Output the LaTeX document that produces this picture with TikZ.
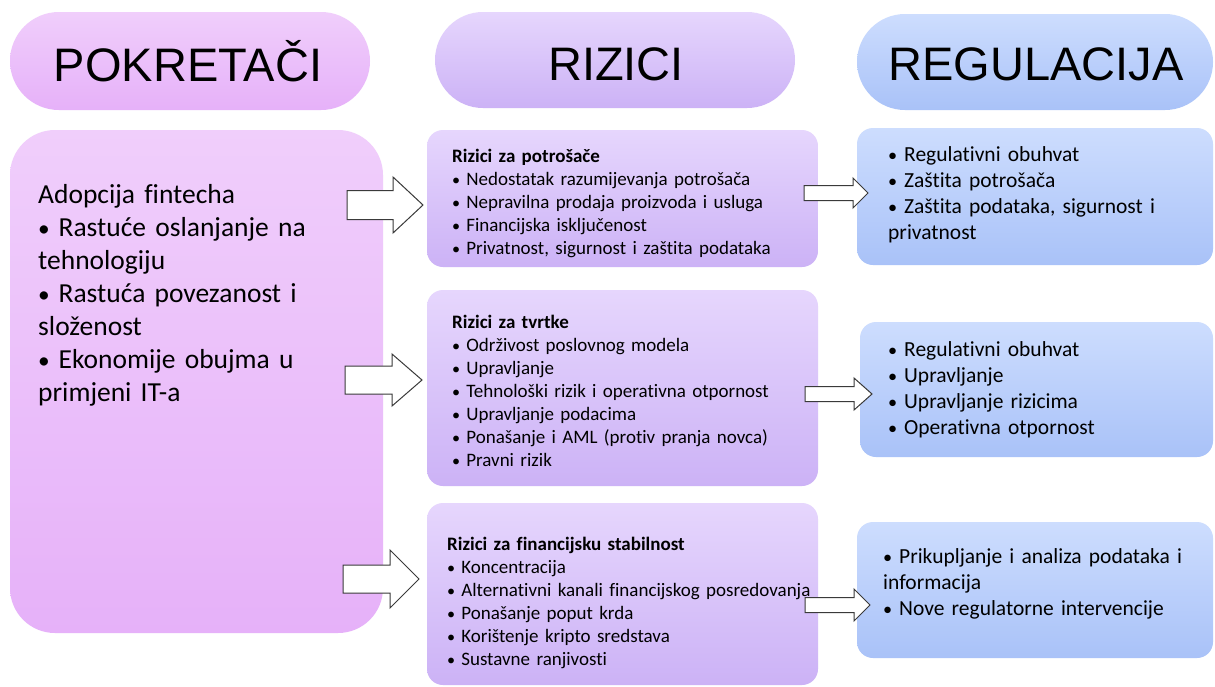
\documentclass[tikz,border=0pt]{standalone}
\usepackage{fontspec}
\setmainfont{Carlito}[Ligatures={NoCommon}]
\newfontfamily\headfont{Liberation Sans}
\definecolor{pinkT}{HTML}{F0CEFB}
\definecolor{pinkB}{HTML}{E6B1F9}
\definecolor{lavT}{HTML}{E6D6FD}
\definecolor{lavB}{HTML}{CCB2F6}
\definecolor{bluT}{HTML}{CDDDFE}
\definecolor{bluB}{HTML}{A9C2F8}
\definecolor{arrowline}{HTML}{3A3A3A}
\newcommand{\bul}{\scalebox{0.85}{\textbullet}\hspace{0.32em}}
\newcommand{\rbox}[6]{%
  \node[#2, minimum width={#5-#3}, minimum height={#6-#4}] (#1) at ({(#3+#5)/2},{(#4+#6)/2}) {};}
\newcommand{\blockarrow}[7]{% name, x0, xh, xtip, yc, shaft half, head half
  \coordinate (#1) at (#4,#5);
  \draw[barrow] (#2,#5-#6) -- (#3,#5-#6) -- (#3,#5-#7) -- (#1) -- (#3,#5+#7) -- (#3,#5+#6) -- (#2,#5+#6) -- cycle;}
\begin{document}
\begin{tikzpicture}[x=1pt,y=-1pt,
  base/.style={inner sep=0pt, outer sep=0pt, draw=none},
  pinkbox/.style={base, top color=pinkT, bottom color=pinkB},
  lavbox/.style={base, top color=lavT, bottom color=lavB},
  blubox/.style={base, top color=bluT, bottom color=bluB},
  headtxt/.style={inner sep=0pt, anchor=base, font=\headfont\fontsize{47}{56}\selectfont, text=black},
  txtL/.style={inner sep=0pt, anchor=base west, align=left, text width=340pt, font=\fontsize{27.5}{33}\selectfont},
  txtM/.style={inner sep=0pt, anchor=base west, align=left, text width=370pt, font=\fontsize{19}{23}\selectfont},
  txtR/.style={inner sep=0pt, anchor=base west, align=left, text width=320pt, font=\fontsize{21.5}{26}\selectfont},
  barrow/.style={draw=arrowline, line width=1pt, fill=white, line join=miter}
]
\fill[white] (0,0) rectangle (1215,686);
\useasboundingbox (0,0) rectangle (1215,686);

% header pills
\rbox{hP}{pinkbox, rounded corners=49pt}{10}{12}{370}{110}
\rbox{hR}{lavbox, rounded corners=48pt}{435}{12}{795}{108}
\rbox{hG}{blubox, rounded corners=48pt}{857}{14}{1213}{110}
\node[headtxt] (hPt) at (188,81) {POKRETAČI};
\node[headtxt] (hRt) at (616,80) {RIZICI};
\node[headtxt] (hGt) at (1036,80) {REGULACIJA};

% left box
\rbox{L}{pinkbox, rounded corners=45pt}{10}{130}{383}{633}
\node[txtL] (Lt) at (38,203) {Adopcija fintecha\\
\bul Rastuće oslanjanje na\\
tehnologiju\\
\bul Rastuća povezanost i\\
složenost\\
\bul Ekonomije obujma u\\
primjeni IT-a};

% middle boxes
\rbox{M1}{lavbox, rounded corners=16pt}{427}{130}{818}{267}
\rbox{M2}{lavbox, rounded corners=16pt}{427}{290}{818}{486}
\rbox{M3}{lavbox, rounded corners=16pt}{427}{503}{818}{685}
\node[txtM] (M1t) at (452,162) {\textbf{Rizici za potrošače}\\
\bul Nedostatak razumijevanja potrošača\\
\bul Nepravilna prodaja proizvoda i usluga\\
\bul Financijska isključenost\\
\bul Privatnost, sigurnost i zaštita podataka};
\node[txtM] (M2t) at (452,328) {\textbf{Rizici za tvrtke}\\
\bul Održivost poslovnog modela\\
\bul Upravljanje\\
\bul Tehnološki rizik i operativna otpornost\\
\bul Upravljanje podacima\\
\bul Ponašanje i AML (protiv pranja novca)\\
\bul Pravni rizik};
\node[txtM] (M3t) at (447,550) {\textbf{Rizici za financijsku stabilnost}\\
\bul Koncentracija\\
\bul Alternativni kanali financijskog posredovanja\\
\bul Ponašanje poput krda\\
\bul Korištenje kripto sredstava\\
\bul Sustavne ranjivosti};

% right boxes
\rbox{R1}{blubox, rounded corners=16pt}{857}{128}{1213}{265}
\rbox{R2}{blubox, rounded corners=16pt}{860}{322}{1213}{457}
\rbox{R3}{blubox, rounded corners=16pt}{857}{522}{1213}{658}
\node[txtR] (R1t) at (888,161) {\bul Regulativni obuhvat\\
\bul Zaštita potrošača\\
\bul Zaštita podataka, sigurnost i\\
privatnost};
\node[txtR] (R2t) at (888,356) {\bul Regulativni obuhvat\\
\bul Upravljanje\\
\bul Upravljanje rizicima\\
\bul Operativna otpornost};
\node[txtR] (R3t) at (883,563) {\bul Prikupljanje i analiza podataka i\\
informacija\\
\bul Nove regulatorne intervencije};

% block arrows
\blockarrow{a1}{347}{393}{423}{205}{14.5}{28}
\blockarrow{a2}{345}{392}{422}{380}{14}{26}
\blockarrow{a3}{343}{390}{419}{579}{14}{29}
\blockarrow{b1}{804}{853}{868}{193}{7.5}{15}
\blockarrow{b2}{805}{854}{872}{394}{7.5}{16}
\blockarrow{b3}{805}{854}{870}{605}{7.5}{16}
\end{tikzpicture}
\end{document}
